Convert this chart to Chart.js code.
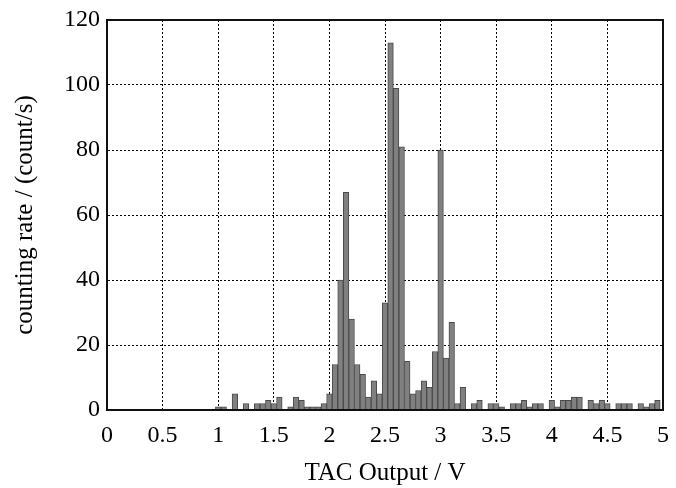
<!DOCTYPE html>
<html>
<head>
<meta charset="utf-8">
<script src="https://cdn.jsdelivr.net/npm/chart.js@4/dist/chart.umd.min.js"></script>
<style>
  html, body { margin: 0; padding: 0; background: #fff; }
  #wrap { width: 676px; height: 488px; position: relative; }
</style>
</head>
<body>
<div id="wrap"><canvas id="tacChart"></canvas></div>
<script>
// bin centres (V) of the TAC spectrum, 0.05 V wide
var binCenters = [
  0.95, 1.00, 1.05, 1.10, 1.15, 1.20, 1.25, 1.30, 1.35, 1.40, 1.45, 1.50, 1.55, 1.60, 1.65, 1.70, 1.75, 1.80, 1.85, 1.90, 1.95,
  2.00, 2.05, 2.10, 2.15, 2.20, 2.25, 2.30, 2.35, 2.40, 2.45, 2.50, 2.55, 2.60, 2.65, 2.70, 2.75, 2.80, 2.85, 2.90, 2.95,
  3.00, 3.05, 3.10, 3.15, 3.20, 3.25, 3.30, 3.35, 3.40, 3.45, 3.50, 3.55, 3.60, 3.65, 3.70, 3.75, 3.80, 3.85, 3.90, 3.95,
  4.00, 4.05, 4.10, 4.15, 4.20, 4.25, 4.30, 4.35, 4.40, 4.45, 4.50, 4.55, 4.60, 4.65, 4.70, 4.75, 4.80, 4.85, 4.90, 4.95
];
// counting rate per bin (count/s)
var countRates = [
  0, 1, 1, 0, 5, 0, 2, 0, 2, 2, 3, 2, 4, 0, 1, 4, 3, 1, 1, 1, 2,
  5, 14, 40, 67, 28, 14, 11, 4, 9, 5, 33, 113, 99, 81, 15, 5, 6, 9, 7, 18,
  80, 16, 27, 2, 7, 0, 2, 3, 0, 2, 2, 1, 0, 2, 2, 3, 1, 2, 2, 0,
  3, 1, 3, 3, 4, 4, 0, 3, 2, 3, 2, 0, 2, 2, 2, 0, 2, 1, 2, 3
];
var xTicks = [0, 0.5, 1, 1.5, 2, 2.5, 3, 3.5, 4, 4.5, 5];
var yTicks = [0, 20, 40, 60, 80, 100, 120];

var points = binCenters.map(function (v, i) {
  return { x: v, y: countRates[i] };
});

var serif = "'Liberation Serif', 'DejaVu Serif', serif";

// box around the plot area (top and right edges)
var frame = {
  id: "frame",
  afterDraw: function (chart) {
    var a = chart.chartArea;
    var c = chart.ctx;
    c.save();
    c.strokeStyle = "#111";
    c.lineWidth = 2;
    c.strokeRect(a.left, a.top, a.right - a.left, a.bottom - a.top);
    c.restore();
  }
};

var grid = {
  color: "#000",
  lineWidth: 1,
  drawTicks: false,
  offset: false
};

new Chart(document.getElementById("tacChart").getContext("2d"), {
  type: "bar",
  data: {
    datasets: [{
      data: points,
      backgroundColor: "#808080",
      borderColor: "#4a4a4a",
      borderWidth: 1,
      borderSkipped: "start",
      barPercentage: 1,
      categoryPercentage: 1
    }]
  },
  options: {
    responsive: true,
    maintainAspectRatio: false,
    animation: false,
    layout: { padding: { top: 20, right: 13, left: 0, bottom: 0 } },
    plugins: { legend: { display: false }, tooltip: { enabled: false } },
    scales: {
      x: {
        type: "linear",
        min: 0,
        max: 5,
        offset: false,
        afterBuildTicks: function (s) { s.ticks = xTicks.map(function (v) { return { value: v }; }); },
        grid: grid,
        border: { display: true, color: "#111", width: 2, dash: [2, 2] },
        ticks: {
          color: "#000",
          padding: 11,
          maxRotation: 0,
          font: { family: serif, size: 24 },
          callback: function (v) { return String(v); }
        },
        title: {
          display: true,
          text: "TAC Output / V",
          color: "#000",
          padding: { top: 0, bottom: 0 },
          font: { family: serif, size: 25 }
        },
        afterFit: function (s) {
          s.height = 78;
          s.paddingLeft = 0;
          s.paddingRight = 0;
        }
      },
      y: {
        min: 0,
        max: 120,
        afterBuildTicks: function (s) { s.ticks = yTicks.map(function (v) { return { value: v }; }); },
        grid: grid,
        border: { display: true, color: "#111", width: 2, dash: [2, 2] },
        ticks: {
          color: "#000",
          padding: 7,
          font: { family: serif, size: 24 }
        },
        title: {
          display: true,
          text: "counting rate / (count/s)",
          color: "#000",
          padding: { top: 10, bottom: 0 },
          font: { family: serif, size: 25 }
        },
        afterFit: function (s) {
          s.width = 107;
          s.paddingTop = 0;
          s.paddingBottom = 0;
        }
      }
    }
  },
  plugins: [frame]
});
</script>
</body>
</html>
